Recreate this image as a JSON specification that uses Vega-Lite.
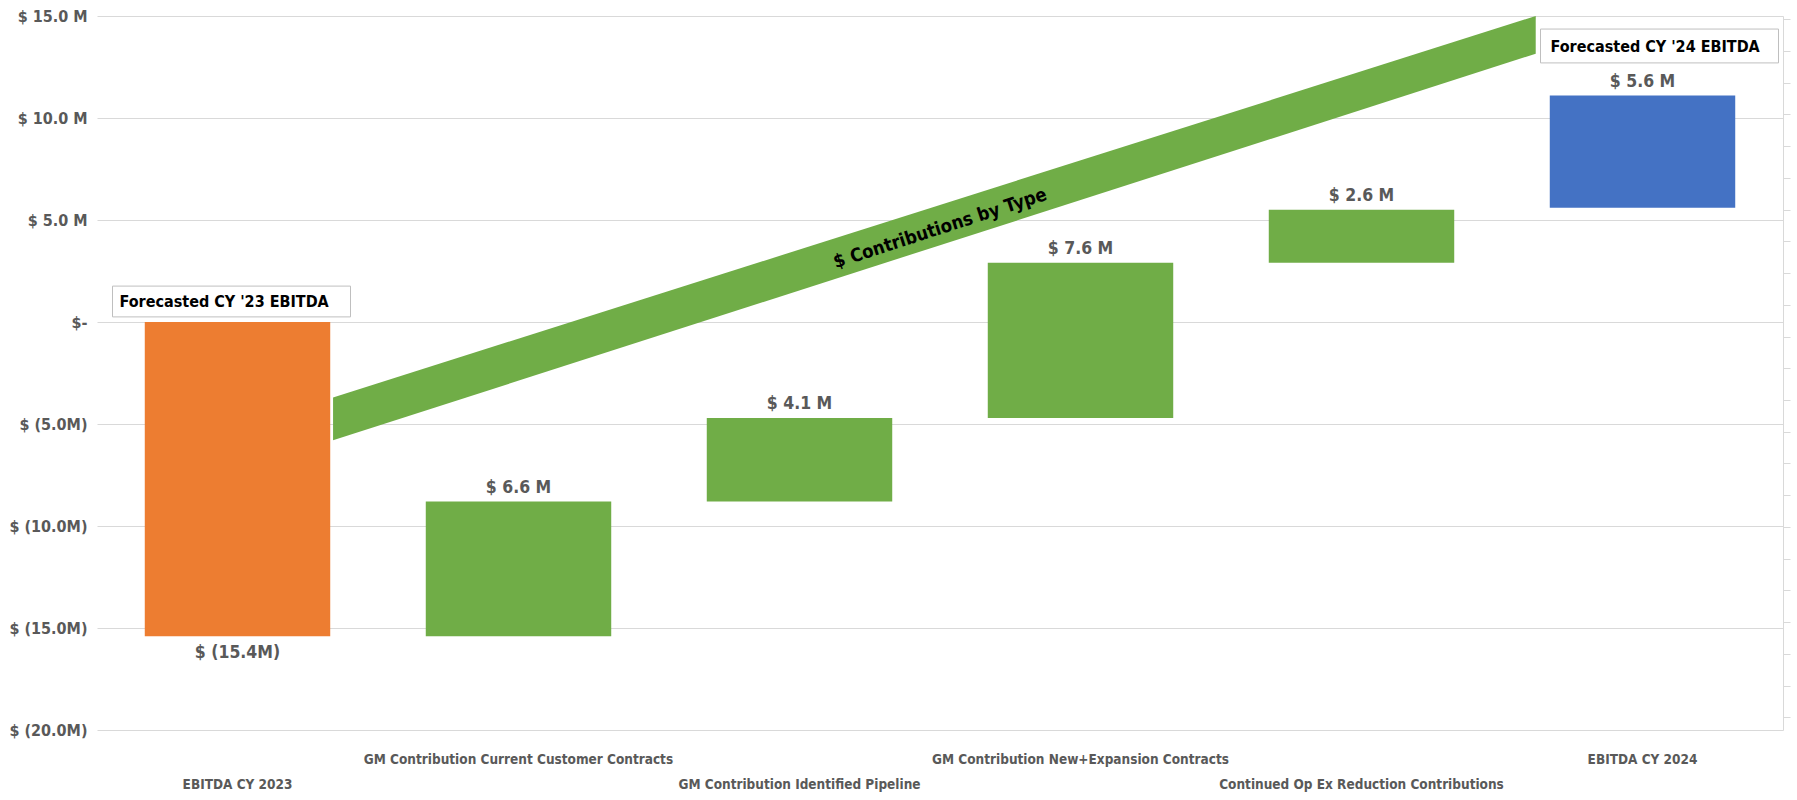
{
  "$schema": "https://vega.github.io/schema/vega-lite/v6.json",
  "width": 1686,
  "height": 714,
  "autosize": {"type": "none"},
  "padding": {"left": 97, "top": 16, "right": 14, "bottom": 70},
  "config": {
    "view": {"stroke": null},
    "font": "DejaVu Sans Condensed",
    "text": {"font": "DejaVu Sans Condensed"}
  },
  "datasets": {
    "steps": [
      {"cat": "EBITDA CY 2023", "low": -15.4, "high": 0, "label": "$ (15.4M)", "kind": "start"},
      {"cat": "GM Contribution Current Customer Contracts", "low": -15.4, "high": -8.8, "label": "$ 6.6 M", "kind": "step"},
      {"cat": "GM Contribution Identified Pipeline", "low": -8.8, "high": -4.7, "label": "$ 4.1 M", "kind": "step"},
      {"cat": "GM Contribution New+Expansion Contracts", "low": -4.7, "high": 2.9, "label": "$ 7.6 M", "kind": "step"},
      {"cat": "Continued Op Ex Reduction Contributions", "low": 2.9, "high": 5.5, "label": "$ 2.6 M", "kind": "step"},
      {"cat": "EBITDA CY 2024", "low": 5.6, "high": 11.1, "label": "$ 5.6 M", "kind": "end"}
    ],
    "notes": [
      {"cat": "EBITDA CY 2023", "y1": 1.76, "y2": 0.25, "ytext": 1.0, "text": "Forecasted CY '23 EBITDA"},
      {"cat": "EBITDA CY 2024", "y1": 14.36, "y2": 12.7, "ytext": 13.5, "text": "Forecasted CY '24 EBITDA"}
    ],
    "band": [
      {"x": 0.84, "top": -3.7, "bottom": -5.8},
      {"x": 5.12, "top": 15.0, "bottom": 13.15}
    ],
    "bandLabel": [
      {"x": 3.0, "y": 4.6, "text": "$ Contributions by Type"}
    ],
    "dummy": [{"v": 0}]
  },
  "layer": [
    {
      "layer": [
        {
          "layer": [
            {
              "data": {"name": "steps"},
              "mark": {"type": "bar"},
              "encoding": {
                "x": {
                  "field": "cat", "type": "nominal",
                  "scale": {"domain": ["EBITDA CY 2023", "GM Contribution Current Customer Contracts", "GM Contribution Identified Pipeline", "GM Contribution New+Expansion Contracts", "Continued Op Ex Reduction Contributions", "EBITDA CY 2024"], "paddingInner": 0.34, "paddingOuter": 0.17},
                  "axis": {
                    "title": null, "ticks": false, "domain": false, "grid": false,
                    "labelAngle": 0, "labelPadding": 22, "labelFontSize": 13.5, "labelFontWeight": "bold",
                    "labelColor": "#595959", "labelLimit": 600, "labelLineHeight": 25, "labelFont": "DejaVu Sans Condensed",
                    "labelExpr": "indexof(['EBITDA CY 2023','GM Contribution Identified Pipeline','Continued Op Ex Reduction Contributions'], datum.value) >= 0 ? ['', datum.value] : datum.value"
                  }
                },
                "y": {
                  "field": "low", "type": "quantitative",
                  "scale": {"domain": [-20, 15], "nice": false, "zero": false},
                  "axis": {
                    "title": null, "values": [-20, -15, -10, -5, 0, 5, 10, 15],
                    "ticks": false, "domain": false, "grid": true, "gridColor": "#d9d9d9",
                    "labelPadding": 10, "labelFontSize": 16, "labelFontWeight": "bold", "labelColor": "#595959",
                    "labelFont": "DejaVu Sans Condensed",
                    "labelExpr": "datum.value == 0 ? '$-' : (datum.value > 0 ? '$ ' + format(datum.value, '.1f') + ' M' : '$ (' + format(-datum.value, '.1f') + 'M)')"
                  }
                },
                "y2": {"field": "high"},
                "color": {
                  "field": "kind", "type": "nominal",
                  "scale": {"domain": ["start", "step", "end"], "range": ["#ED7D31", "#70AD47", "#4472C4"]},
                  "legend": null
                }
              }
            },
            {
              "data": {"name": "steps"},
              "transform": [{"filter": "datum.kind != 'start'"}],
              "mark": {"type": "text", "baseline": "bottom", "dy": -5, "fontSize": 17.5, "fontWeight": "bold", "color": "#595959"},
              "encoding": {
                "x": {"field": "cat", "type": "nominal", "title": null},
                "y": {"field": "high", "type": "quantitative", "title": null},
                "text": {"field": "label"}
              }
            },
            {
              "data": {"name": "steps"},
              "transform": [{"filter": "datum.kind == 'start'"}],
              "mark": {"type": "text", "baseline": "top", "dy": 8, "fontSize": 17.5, "fontWeight": "bold", "color": "#595959"},
              "encoding": {
                "x": {"field": "cat", "type": "nominal", "title": null},
                "y": {"field": "low", "type": "quantitative", "title": null},
                "text": {"field": "label"}
              }
            },
            {
              "data": {"name": "notes"},
              "transform": [{"filter": "datum.cat == 'EBITDA CY 2023'"}],
              "layer": [
                {
                  "mark": {"type": "bar", "width": 238, "xOffset": -6, "fill": "white", "stroke": "#bfbfbf", "strokeWidth": 1},
                  "encoding": {
                    "x": {"field": "cat", "type": "nominal", "title": null},
                    "y": {"field": "y1", "type": "quantitative", "title": null},
                    "y2": {"field": "y2"}
                  }
                },
                {
                  "mark": {"type": "text", "align": "left", "baseline": "middle", "dx": -118, "fontSize": 16, "fontWeight": "bold", "color": "#000000"},
                  "encoding": {
                    "x": {"field": "cat", "type": "nominal", "title": null},
                    "y": {"field": "ytext", "type": "quantitative", "title": null},
                    "text": {"field": "text"}
                  }
                }
              ]
            },
            {
              "data": {"name": "notes"},
              "transform": [{"filter": "datum.cat == 'EBITDA CY 2024'"}],
              "layer": [
                {
                  "mark": {"type": "bar", "width": 238, "xOffset": 17, "fill": "white", "stroke": "#bfbfbf", "strokeWidth": 1},
                  "encoding": {
                    "x": {"field": "cat", "type": "nominal", "title": null},
                    "y": {"field": "y1", "type": "quantitative", "title": null},
                    "y2": {"field": "y2"}
                  }
                },
                {
                  "mark": {"type": "text", "align": "left", "baseline": "middle", "dx": -92, "fontSize": 16, "fontWeight": "bold", "color": "#000000"},
                  "encoding": {
                    "x": {"field": "cat", "type": "nominal", "title": null},
                    "y": {"field": "ytext", "type": "quantitative", "title": null},
                    "text": {"field": "text"}
                  }
                }
              ]
            }
          ]
        },
        {
          "layer": [
            {
              "data": {"name": "band"},
              "mark": {"type": "area", "orient": "vertical", "color": "#70AD47", "opacity": 1},
              "encoding": {
                "x": {"field": "x", "type": "quantitative", "axis": null, "scale": {"domain": [0, 6], "nice": false, "zero": false}},
                "y": {"field": "top", "type": "quantitative", "title": null},
                "y2": {"field": "bottom"}
              }
            },
            {
              "data": {"name": "bandLabel"},
              "mark": {"type": "text", "angle": 342, "align": "center", "baseline": "middle", "fontSize": 18.5, "fontWeight": "bold", "color": "#000000"},
              "encoding": {
                "x": {"field": "x", "type": "quantitative", "axis": null, "scale": {"domain": [0, 6], "nice": false, "zero": false}},
                "y": {"field": "y", "type": "quantitative", "title": null},
                "text": {"field": "text"}
              }
            }
          ]
        }
      ],
      "resolve": {"scale": {"x": "independent"}}
    },
    {
      "data": {"name": "dummy"},
      "mark": {"type": "point", "opacity": 0},
      "encoding": {
        "y": {
          "field": "v", "type": "quantitative",
          "scale": {"domain": [0, 22.5], "nice": false, "zero": false},
          "axis": {"orient": "right", "title": null, "labels": false, "grid": false, "values": [0.4, 1.4, 2.4, 3.4, 4.4, 5.4, 6.4, 7.4, 8.4, 9.4, 10.4, 11.4, 12.4, 13.4, 14.4, 15.4, 16.4, 17.4, 18.4, 19.4, 20.4, 21.4, 22.4], "domainColor": "#d9d9d9", "tickColor": "#d9d9d9", "tickSize": 7}
        }
      }
    }
  ],
  "resolve": {"scale": {"y": "independent"}}
}
